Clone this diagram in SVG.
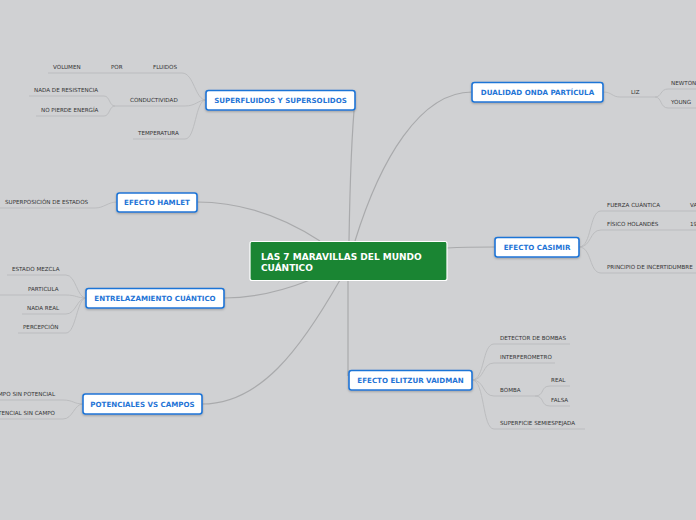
<svg xmlns="http://www.w3.org/2000/svg" width="696" height="520" viewBox="0 0 696 520">
<style>
.bg{fill:#d0d1d3}
.main{fill:none;stroke:#a9aaac;stroke-width:1.2}
.sub{fill:none;stroke:#b9babc;stroke-width:0.9}
.box{fill:#ffffff;stroke:#1f74d6;stroke-width:1.6}
.nt{font-family:"DejaVu Sans",Verdana,sans-serif;font-weight:bold;font-size:7.1px;fill:#1f74d6;text-anchor:middle}
.ct{font-family:"DejaVu Sans",Verdana,sans-serif;font-weight:bold;font-size:9px;fill:#ffffff}
.lt{font-family:"DejaVu Sans",Verdana,sans-serif;font-size:5.6px;fill:#333333}
</style>
<defs>
<filter id="sh" x="-10%" y="-20%" width="120%" height="150%">
<feDropShadow dx="0" dy="1" stdDeviation="0.8" flood-color="#000" flood-opacity="0.25"/>
</filter>
</defs>
<rect class="bg" x="0" y="0" width="696" height="520"/>
<g id="connectors">
<path class="main" d="M349,241 C350,180 352,130 355,100"/>
<path class="main" d="M355,241 C380,160 420,92 472,92"/>
<path class="main" d="M320,241 C280,215 240,202 197,202"/>
<path class="main" d="M310,280 C280,292 250,298 224,298"/>
<path class="main" d="M340,280 C300,350 260,404 202,404"/>
<path class="main" d="M447,248 C465,247 480,247 495,247"/>
<path class="main" d="M348,280 L348,376"/>
<path class="sub" d="M206,100 C195,100 194,73 182,73 L48,73"/>
<path class="sub" d="M206,100 C198,100 196,106 185,106 L115,106"/>
<path class="sub" d="M115,106 C109,106 110,96 104,96 L29,96"/>
<path class="sub" d="M115,106 C109,106 110,116 104,116 L36,116"/>
<path class="sub" d="M206,100 C195,100 196,139 185,139 L133,139"/>
<path class="sub" d="M117,202 C108,202 104,208 95,208 L0,208"/>
<path class="sub" d="M86,298 C77,298 76,275 66,275 L7,275"/>
<path class="sub" d="M86,298 C77,298 76,295 66,295 L0,295"/>
<path class="sub" d="M86,298 C77,298 76,314 66,314 L22,314"/>
<path class="sub" d="M86,298 C77,298 76,333 66,333 L18,333"/>
<path class="sub" d="M83,404 C74,404 73,400 63,400 L0,400"/>
<path class="sub" d="M83,404 C74,404 73,419 63,419 L0,419"/>
<path class="sub" d="M603,92 C612,92 612,97 620,97 L655,97"/>
<path class="sub" d="M655,97 C662,97 660,89 668,89 L696,89"/>
<path class="sub" d="M655,97 C662,97 660,108 668,108 L696,108"/>
<path class="sub" d="M579,247 C592,247 589,211 601,211 L696,211"/>
<path class="sub" d="M579,247 C592,247 589,230 601,230 L696,230"/>
<path class="sub" d="M579,247 C592,247 589,273 601,273 L696,273"/>
<path class="sub" d="M472,380 C485,380 482,344 494,344 L570,344"/>
<path class="sub" d="M472,380 C485,380 482,363 494,363 L555,363"/>
<path class="sub" d="M472,380 C485,380 482,396 494,396 L535,396"/>
<path class="sub" d="M472,380 C485,380 482,429 494,429 L585,429"/>
<path class="sub" d="M535,396 C545,396 540,386 550,386 L570,386"/>
<path class="sub" d="M535,396 C545,396 540,406 550,406 L570,406"/>
</g>
<g id="central">
<rect x="250" y="241.5" width="197" height="39" rx="2" fill="#1a8533" stroke="#ffffff" stroke-width="1.2"/>
<text class="ct" x="261" y="259.5">LAS 7 MARAVILLAS DEL MUNDO</text>
<text class="ct" x="261" y="270.5">CUÁNTICO</text>
</g>
<g id="superfluidos">
<rect class="box" x="206" y="90.5" width="149" height="19.5" rx="2.5" filter="url(#sh)"/>
<text class="nt" x="280.5" y="103">SUPERFLUIDOS Y SUPERSOLIDOS</text>
<text class="lt" x="53" y="69">VOLUMEN</text>
<text class="lt" x="111" y="69">POR</text>
<text class="lt" x="153" y="69">FLUIDOS</text>
<text class="lt" x="34" y="92">NADA DE RESISTENCIA</text>
<text class="lt" x="41" y="112">NO PIERDE ENERGÍA</text>
<text class="lt" x="130" y="102">CONDUCTIVIDAD</text>
<text class="lt" x="138" y="135">TEMPERATURA</text>
</g>
<g id="hamlet">
<rect class="box" x="117" y="193" width="80" height="19" rx="2.5" filter="url(#sh)"/>
<text class="nt" x="157" y="205">EFECTO HAMLET</text>
<text class="lt" x="5" y="204">SUPERPOSICIÓN DE ESTADOS</text>
</g>
<g id="entrelazamiento">
<rect class="box" x="86" y="288.5" width="138" height="19.5" rx="2.5" filter="url(#sh)"/>
<text class="nt" x="155" y="301">ENTRELAZAMIENTO CUÁNTICO</text>
<text class="lt" x="12" y="271">ESTADO MEZCLA</text>
<text class="lt" x="28" y="291">PARTICULA</text>
<text class="lt" x="27" y="310">NADA REAL</text>
<text class="lt" x="23" y="329">PERCEPCIÓN</text>
</g>
<g id="potenciales">
<rect class="box" x="83" y="394" width="119" height="20" rx="2.5" filter="url(#sh)"/>
<text class="nt" x="142.5" y="406.5">POTENCIALES VS CAMPOS</text>
<text class="lt" x="55" y="396" text-anchor="end">CAMPO SIN POTENCIAL</text>
<text class="lt" x="55" y="415" text-anchor="end">POTENCIAL SIN CAMPO</text>
</g>
<g id="dualidad">
<rect class="box" x="472" y="82.5" width="131" height="19.5" rx="2.5" filter="url(#sh)"/>
<text class="nt" x="537.5" y="95">DUALIDAD ONDA PARTÍCULA</text>
<text class="lt" x="631" y="94">LIZ</text>
<text class="lt" x="671" y="85">NEWTON</text>
<text class="lt" x="671" y="104">YOUNG</text>
</g>
<g id="casimir">
<rect class="box" x="495" y="237.5" width="84" height="19.5" rx="2.5" filter="url(#sh)"/>
<text class="nt" x="537" y="250">EFECTO CASIMIR</text>
<text class="lt" x="607" y="207">FUERZA CUÁNTICA</text>
<text class="lt" x="690" y="207">VA</text>
<text class="lt" x="607" y="226">FÍSICO HOLANDÉS</text>
<text class="lt" x="690" y="226">19</text>
<text class="lt" x="607" y="269">PRINCIPIO DE INCERTIDUMBRE</text>
</g>
<g id="elitzur">
<rect class="box" x="349" y="370.5" width="123" height="19.5" rx="2.5" filter="url(#sh)"/>
<text class="nt" x="410.5" y="383">EFECTO ELITZUR VAIDMAN</text>
<text class="lt" x="500" y="340">DETECTOR DE BOMBAS</text>
<text class="lt" x="500" y="359">INTERFEROMETRO</text>
<text class="lt" x="500" y="392">BOMBA</text>
<text class="lt" x="551" y="382">REAL</text>
<text class="lt" x="551" y="402">FALSA</text>
<text class="lt" x="500" y="425">SUPERFICIE SEMIESPEJADA</text>
</g>
</svg>
